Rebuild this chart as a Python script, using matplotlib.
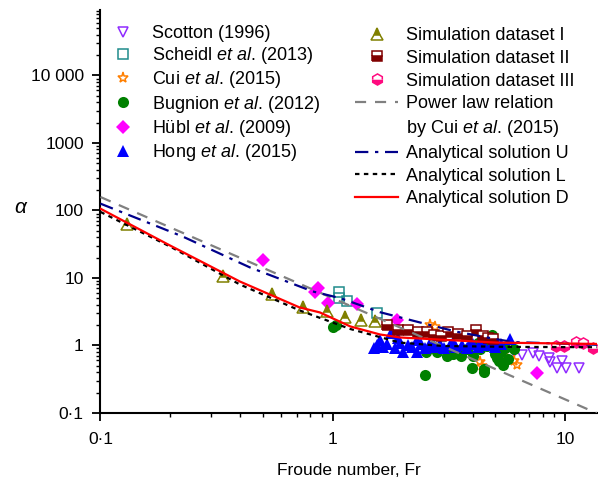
import numpy as np
import matplotlib
matplotlib.use('Agg')
import matplotlib.pyplot as plt
from matplotlib.lines import Line2D
from matplotlib.ticker import LogLocator, FixedLocator, FuncFormatter, NullFormatter

plt.rcParams['font.family'] = ['Liberation Sans', 'DejaVu Sans']
plt.rcParams['mathtext.fontset'] = 'custom'
plt.rcParams['mathtext.rm'] = 'Liberation Sans'
plt.rcParams['mathtext.it'] = 'Liberation Sans:italic'

# data
scotton_fr = [6.0, 6.55, 7.3, 7.7, 8.5, 8.6, 9.2, 9.7, 10.1, 11.5]
scotton_a = [0.79, 0.71, 0.76, 0.69, 0.64, 0.56, 0.47, 0.58, 0.47, 0.47]

scheidl_fr = [1.065, 1.06, 1.15, 1.55]
scheidl_a = [6.1, 5.1, 4.5, 3.05]

cui_fr = [2.63, 2.75, 4.3, 4.4, 5.2, 5.4, 6.0, 6.2]
cui_a = [1.98, 1.9, 0.56, 0.5, 0.62, 0.69, 0.58, 0.52]

bugnion_fr = [1.0, 1.03, 2.5, 2.52, 2.8, 3.1, 3.3, 3.55, 3.8, 3.97, 4.0, 4.2, 4.3,
              4.5, 4.5, 4.6, 4.85, 5.0, 5.2, 5.3, 5.4, 5.5, 5.7, 6.0, 5.1]
bugnion_a = [1.9, 2.0, 0.37, 0.79, 0.8, 0.69, 0.75, 0.69, 0.87, 0.46, 0.69, 1.1, 0.87,
             0.44, 0.41, 0.97, 1.45, 0.75, 0.58, 0.79, 0.52, 0.93, 0.62, 0.87, 0.65]

hubl_fr = [0.50, 0.84, 0.865, 0.955, 1.27, 1.89, 7.6]
hubl_a = [18.7, 6.1, 7.0, 4.18, 4.05, 2.34, 0.385]

hong_fr = [1.50, 1.55, 1.60, 1.65, 1.72, 1.78, 1.85, 1.95, 2.0, 2.1, 2.2, 2.3, 2.4, 2.5,
           2.6, 2.75, 2.9, 3.0, 3.2, 3.4, 3.6, 3.8, 4.0, 4.2, 4.5, 4.8, 5.0, 5.3, 5.8,
           1.9, 2.3, 2.7, 3.3, 3.9, 4.4, 5.1]
hong_a = [0.93, 1.0, 1.2, 0.95, 1.05, 1.55, 0.92, 1.1, 0.79, 1.0, 0.95, 0.79, 1.05, 0.9,
          1.0, 0.95, 1.05, 0.92, 1.0, 0.95, 1.0, 0.92, 1.05, 0.95, 1.0, 1.0, 0.95, 1.05, 1.23,
          1.3, 1.2, 1.1, 1.12, 1.1, 1.08, 1.1]

sim1_fr = [0.13, 0.337, 0.547, 0.746, 0.945, 1.13, 1.32, 1.52]
sim1_a = [62, 10.5, 5.7, 3.65, 3.18, 2.68, 2.34, 2.27]

sim2_fr = [1.72, 1.91, 2.1, 2.33, 2.54, 2.73, 2.93, 3.13, 3.45, 3.8, 4.13, 4.44, 4.65, 4.9]
sim2_a = [2.04, 1.67, 1.72, 1.6, 1.56, 1.45, 1.36, 1.6, 1.5, 1.4, 1.72, 1.36, 1.27, 1.25]

sim3_fr = [9.1, 9.85, 11.1, 11.9, 13.2]
sim3_a = [0.97, 0.97, 1.12, 1.1, 0.93]

power_fr = [0.1, 1.0, 13.7]
power_a = [158, 5.0, 0.099]

U_fr = [0.1, 0.226, 0.44, 0.82, 1.08, 1.6, 2.37, 3.4, 5.1, 6.0, 14]
U_a = [126, 41, 14.3, 6.3, 5.0, 3.1, 2.19, 1.6, 1.23, 1.12, 1.02]

L_fr = [0.1, 0.2, 0.398, 0.72, 1.19, 1.95, 3.0, 6.0, 14]
L_a = [95, 29, 8.0, 3.3, 1.75, 1.1, 0.98, 0.95, 0.94]

D_fr = [0.1, 0.193, 0.398, 0.72, 0.88, 1.19, 1.6, 1.95, 5.1, 14]
D_a = [106, 32, 8.85, 3.65, 3.08, 1.91, 1.45, 1.31, 1.1, 1.05]

fig = plt.figure(figsize=(5.98, 4.79), dpi=100)
ax = fig.add_axes([0.168, 0.138, 0.83, 0.841])

ms = 7
mew = 1.1
h1 = ax.plot(scotton_fr, scotton_a, 'v', ms=ms, mfc='none', mec='#8F2BFF', mew=mew, label='Scotton (1996)')[0]
h2 = ax.plot(scheidl_fr, scheidl_a, 's', ms=ms, mfc='none', mec='#1F8C8C', mew=mew,
             label=r'Scheidl $\mathit{et\ al}$. (2013)')[0]
h3 = ax.plot(cui_fr, cui_a, '*', ms=ms + 1, mfc='none', mec='#FF7F00', mew=mew,
             label=r'Cui $\mathit{et\ al}$. (2015)')[0]
h4 = ax.plot(bugnion_fr, bugnion_a, 'o', ms=ms + 1, color='#008000', mew=0,
             label=r'Bugnion $\mathit{et\ al}$. (2012)')[0]
h5 = ax.plot(hubl_fr, hubl_a, 'D', ms=ms + 0.5, color='#FF00FF', mew=0,
             label=r'Hübl $\mathit{et\ al}$. (2009)')[0]
h6 = ax.plot(hong_fr, hong_a, '^', ms=ms + 1, color='#0000FF', mew=0,
             label=r'Hong $\mathit{et\ al}$. (2015)')[0]

h7 = ax.plot(sim1_fr, sim1_a, '^', ms=ms + 1, color='#808000', mfc='#808000', mfcalt='white',
             fillstyle='top', mew=mew, label='Simulation dataset I')[0]
h8 = ax.plot(sim2_fr, sim2_a, 's', ms=ms, color='#800000', mfc='#800000', mfcalt='white',
             fillstyle='bottom', mew=mew, label='Simulation dataset II')[0]
h9 = ax.plot(sim3_fr, sim3_a, 'h', ms=ms + 1, color='#FF0A7F', mfc='#FF0A7F', mfcalt='white',
             fillstyle='bottom', mew=mew, label='Simulation dataset III')[0]

l1 = ax.plot(power_fr, power_a, color='#808080', lw=1.6, dashes=(5, 4), zorder=5,
             label='Power law relation')[0]
l2 = ax.plot(U_fr, U_a, color='#00008B', lw=1.6, dashes=(6, 3, 1.5, 3), zorder=5,
             label='Analytical solution U')[0]
l3 = ax.plot(L_fr, L_a, color='black', lw=1.6, dashes=(2, 2), zorder=5,
             label='Analytical solution L')[0]
l4 = ax.plot(D_fr, D_a, color='#FF0000', lw=1.6, zorder=6, label='Analytical solution D')[0]

ax.set_xscale('log')
ax.set_yscale('log')
ax.set_xlim(0.1, 13.7)
ax.set_ylim(0.1, 93000)

ax.spines['top'].set_visible(False)
ax.spines['right'].set_visible(False)
ax.spines['left'].set_linewidth(1.5)
ax.spines['bottom'].set_linewidth(1.5)

ax.xaxis.set_major_locator(FixedLocator([0.1, 1, 10]))
ax.yaxis.set_major_locator(FixedLocator([0.1, 1, 10, 100, 1000, 10000]))
ax.xaxis.set_minor_locator(LogLocator(base=10, subs=np.arange(2, 10), numticks=20))
ax.yaxis.set_minor_locator(LogLocator(base=10, subs=np.arange(2, 10), numticks=20))
ax.xaxis.set_minor_formatter(NullFormatter())
ax.yaxis.set_minor_formatter(NullFormatter())

names = {0.1: '0·1', 1: '1', 10: '10', 100: '100', 1000: '1000', 10000: '10 000'}
fmt = FuncFormatter(lambda v, p: names.get(round(v, 1) if v < 1 else int(round(v)), ''))
ax.xaxis.set_major_formatter(fmt)
ax.yaxis.set_major_formatter(fmt)

ax.tick_params(which='major', length=6, width=1.3, labelsize=12.5, pad=6)
ax.tick_params(axis='x', which='major', pad=8)
ax.tick_params(which='minor', length=3, width=1.0)

ax.set_xlabel('Froude number, Fr', fontsize=12.5, labelpad=11)
ax.set_ylabel(r'$\alpha$', fontsize=15, rotation=0, va='center')
ax.yaxis.set_label_coords(-0.16, 0.51)

fs = 13
leg1 = ax.legend(handles=[h1, h2, h3, h4, h5, h6], loc='upper left',
                 bbox_to_anchor=(101 / 598, 1 - 25 / 479), bbox_transform=fig.transFigure,
                 frameon=False, fontsize=fs, handlelength=2.4, handletextpad=0.45,
                 labelspacing=0.18, borderpad=0, borderaxespad=0)
ax.add_artist(leg1)

blank = Line2D([], [], linestyle='none', marker=None, label=r'by Cui $\mathit{et\ al}$. (2015)')
ax.legend(handles=[h7, h8, h9, l1, blank, l2, l3, l4], loc='upper left',
          bbox_to_anchor=(355 / 598, 1 - 27 / 479), bbox_transform=fig.transFigure,
          frameon=False, fontsize=fs, handlelength=2.4, handletextpad=0.45,
          labelspacing=0.32, borderpad=0, borderaxespad=0)

fig.savefig('out.png', dpi=100)
